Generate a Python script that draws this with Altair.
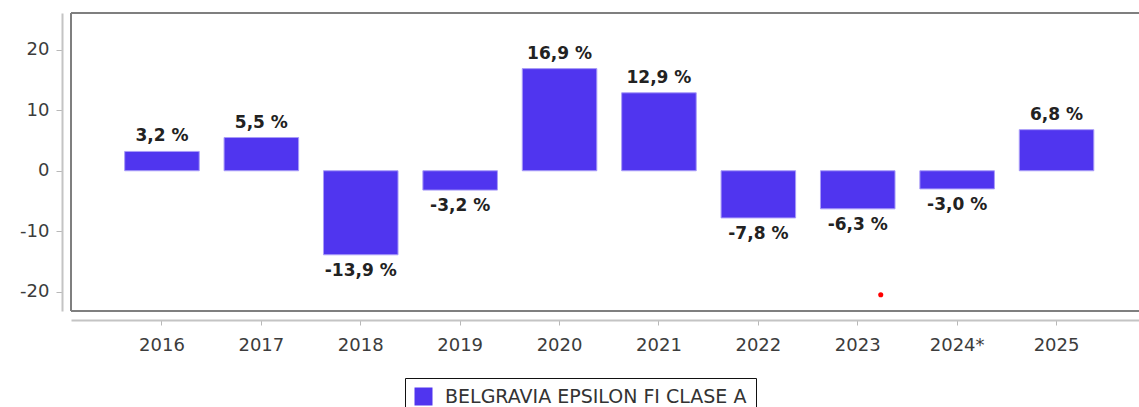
import altair as alt
import pandas as pd

years = ["2016", "2017", "2018", "2019", "2020", "2021", "2022", "2023", "2024*", "2025"]
values = [3.2, 5.5, -13.9, -3.2, 16.9, 12.9, -7.8, -6.3, -3.0, 6.8]
series_name = "BELGRAVIA EPSILON FI CLASE A"
y_ticks = [-20, -10, 0, 10, 20]

# stray red marker in the original picture
dot_year = ["2023"]
dot_value = [-20.5]

df = pd.DataFrame({"year": years, "value": values})
df["series"] = series_name
df["label"] = [f"{v:.1f}".replace(".", ",") + " %" for v in values]

dot_df = pd.DataFrame({"year": dot_year, "value": dot_value})

W, H = 1068, 298
FONT = "DejaVu Sans"

xscale = alt.Scale(domain=years, range=[0, 1076.5], paddingInner=0.25, paddingOuter=0.54)
yscale = alt.Scale(domain=[-23.2, 26.1], nice=False, zero=False)

x_enc = alt.X("year:N", scale=xscale, sort=years,
              axis=alt.Axis(title=None, labelAngle=0, offset=9, domainColor="#c4c4c4",
                            domainWidth=2, tickColor="#b8b8b8", tickSize=5, tickWidth=1,
                            labelPadding=11, labelFontSize=18, labelColor="#3c3c3c",
                            labelFont=FONT))
y_enc = alt.Y("value:Q", scale=yscale,
              axis=alt.Axis(title=None, values=y_ticks, grid=False, offset=9,
                            domainColor="#c4c4c4", domainWidth=2, tickColor="#b8b8b8",
                            tickSize=6, tickWidth=1, labelPadding=7, labelFontSize=18,
                            labelColor="#3c3c3c", labelFont=FONT,
                            labelExpr="replace(datum.label, '\u2212', '-')"))

base = alt.Chart(df)

bars = base.mark_bar(stroke="#a99cf8", strokeWidth=1).encode(
    x=x_enc,
    y=y_enc,
    color=alt.Color("series:N", scale=alt.Scale(range=["#5035EF"]),
                    legend=alt.Legend(title=None, orient="none", legendX=334, legendY=365,
                                      strokeColor="#111111", padding=9,
                                      symbolType="square", symbolSize=324,
                                      symbolStrokeWidth=0, labelFontSize=19,
                                      labelColor="#333333", labelFont=FONT,
                                      labelOffset=12, labelLimit=0)),
)

pos_text = base.transform_filter("datum.value >= 0").mark_text(
    baseline="alphabetic", dy=-10, fontSize=17, font=FONT, fontWeight="bold", color="#222222"
).encode(x=alt.X("year:N", scale=xscale, sort=years), y=alt.Y("value:Q", scale=yscale), text="label:N")

neg_text = base.transform_filter("datum.value < 0").mark_text(
    baseline="top", dy=8, fontSize=17, font=FONT, fontWeight="bold", color="#222222"
).encode(x=alt.X("year:N", scale=xscale, sort=years), y=alt.Y("value:Q", scale=yscale), text="label:N")

dot = alt.Chart(dot_df).mark_circle(color="#ff0000", size=26, opacity=1, xOffset=23).encode(
    x=alt.X("year:N", scale=xscale, sort=years), y=alt.Y("value:Q", scale=yscale)
)

one = pd.DataFrame({"a": [0]})
frame_top = alt.Chart(one).mark_rule(color="#7f7f7f", strokeWidth=2).encode(
    x=alt.value(0), x2=alt.value(1100), y=alt.value(0))
frame_bottom = alt.Chart(one).mark_rule(color="#7f7f7f", strokeWidth=2).encode(
    x=alt.value(0), x2=alt.value(1100), y=alt.value(H))
frame_left = alt.Chart(one).mark_rule(color="#7f7f7f", strokeWidth=2).encode(
    x=alt.value(0), y=alt.value(0), y2=alt.value(H))

chart = alt.layer(bars, pos_text, neg_text, dot, frame_top, frame_bottom, frame_left).properties(
    width=W, height=H,
    autosize=alt.AutoSizeParams(type="none"),
    padding={"left": 71, "top": 13, "right": 0, "bottom": 96},
).configure_view(stroke=None).configure_legend(strokeWidth=2).configure(background="white")

chart.save("out.html", embed_options={"renderer": "svg", "actions": False})
